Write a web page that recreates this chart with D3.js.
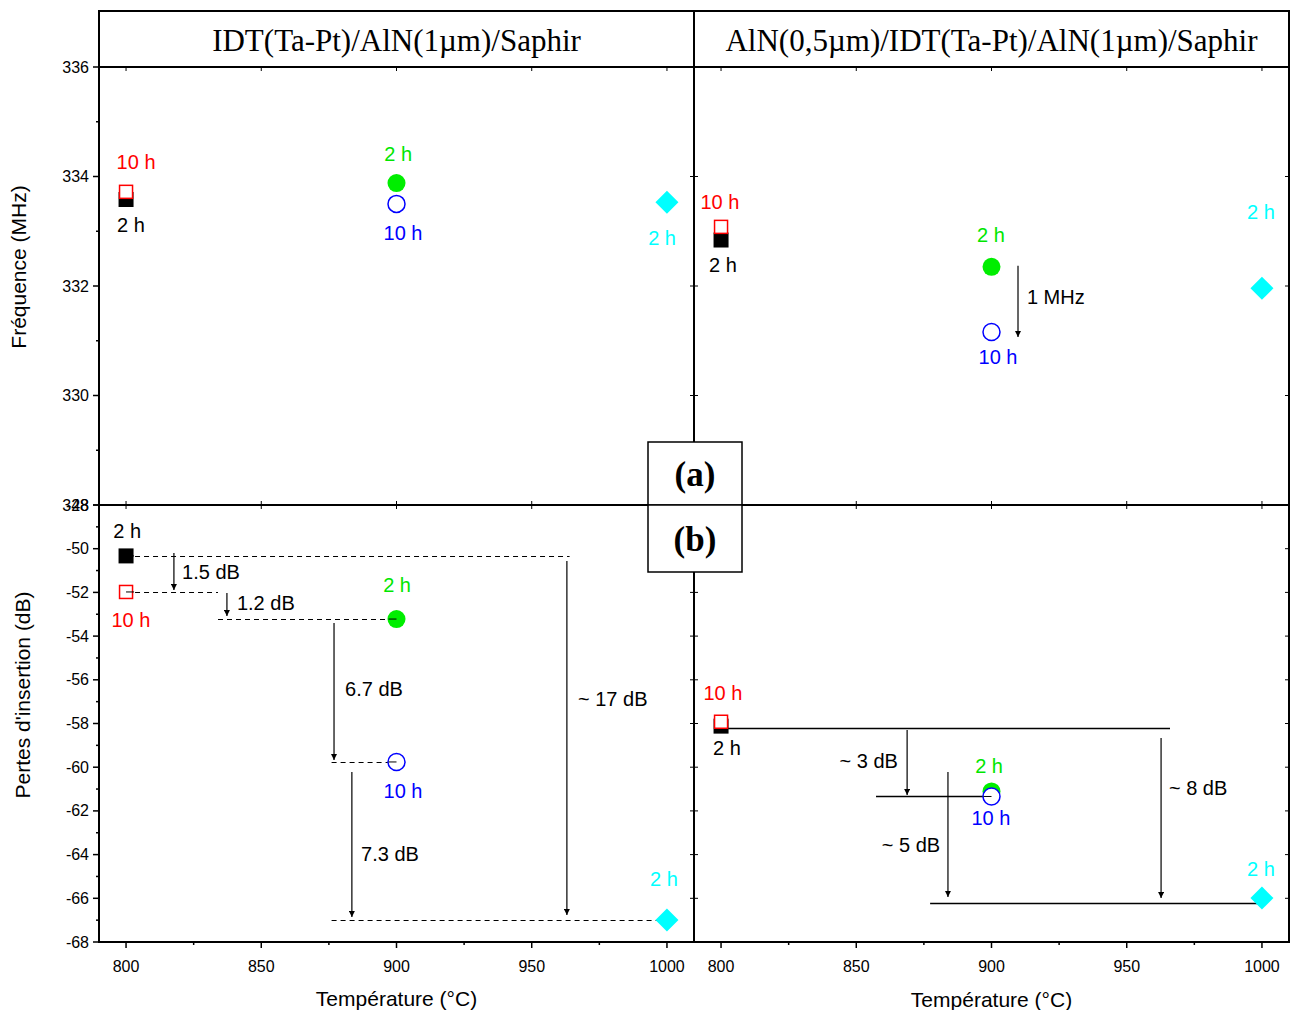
<!DOCTYPE html>
<html>
<head>
<meta charset="utf-8">
<script src="https://cdn.jsdelivr.net/npm/d3@7"></script>
<style>
  body { margin: 0; background: #fff; }
  svg { font-family: "Liberation Sans", Arial, sans-serif; }
  .tick-label { font-size: 16px; fill: #000; }
  .axis-title { font-size: 21px; fill: #000; }
  .note { font-size: 20px; }
  .title { font-family: "Liberation Serif", serif; font-size: 31px; }
  .tag { font-family: "Liberation Serif", serif; font-size: 35px; font-weight: bold; }
</style>
</head>
<body>
<div id="chart"></div>
<script>
// temperatures (°C) and values
const temps = [800, 900, 1000];
const freq2hA = [333.58, 333.88, 333.53];
const freq10hA = [333.72, 333.50, null];
const freq2hB = [332.84, 332.35, 331.96];
const freq10hB = [333.08, 331.16, null];
const loss2hA = [-50.33, -53.22, -66.99];
const loss10hA = [-51.98, -59.76, null];
const loss2hB = [-58.12, -61.11, -65.99];
const loss10hB = [-57.92, -61.34, null];

const titles = ["IDT(Ta-Pt)/AlN(1µm)/Saphir", "AlN(0,5µm)/IDT(Ta-Pt)/AlN(1µm)/Saphir"];
const freqTicks = [328, 330, 332, 334, 336];
const lossTicks = [-68, -66, -64, -62, -60, -58, -56, -54, -52, -50, -48];
const tempTicks = [800, 850, 900, 950, 1000];

// point labels [t, v, text, colour]
const labelsTL = [[803.7, 334.26, "10 h", "red"], [801.8, 333.11, "2 h", "black"], [900.6, 334.41, "2 h", "#00e600"],
  [902.4, 332.97, "10 h", "blue"], [998.2, 332.88, "2 h", "cyan"]];
const labelsTR = [[799.6, 333.53, "10 h", "red"], [800.7, 332.38, "2 h", "black"], [899.8, 332.93, "2 h", "#00e600"],
  [902.4, 330.70, "10 h", "blue"], [999.6, 333.35, "2 h", "cyan"]];
const labelsBL = [[800.4, -49.19, "2 h", "black"], [801.8, -53.26, "10 h", "red"], [900.2, -51.66, "2 h", "#00e600"],
  [902.4, -61.09, "10 h", "blue"], [998.9, -65.12, "2 h", "cyan"]];
const labelsBR = [[800.7, -56.6, "10 h", "red"], [802.2, -59.12, "2 h", "black"], [899.1, -59.95, "2 h", "#00e600"],
  [899.8, -62.32, "10 h", "blue"], [999.6, -64.66, "2 h", "cyan"]];

// differences: [t, v, text, anchor]
const notesTR = [[913.1, 331.80, "1 MHz", "start"]];
const notesBL = [[820.7, -51.07, "1.5 dB", "start"], [841.0, -52.49, "1.2 dB", "start"], [881.0, -56.42, "6.7 dB", "start"],
  [886.9, -63.97, "7.3 dB", "start"], [967.1, -56.88, "~ 17 dB", "start"]];
const notesBR = [[865.4, -59.72, "~ 3 dB", "end"], [881.0, -63.56, "~ 5 dB", "end"], [965.6, -60.95, "~ 8 dB", "start"]];

// guide lines [t1, t2, v] and arrows [t, v1, v2]
const guidesBL = [[800, 964, -50.33], [800, 834, -51.98], [834, 900, -53.22], [876, 900, -59.76], [876, 1000, -66.99]];
const guidesBR = [[802.6, 966, -58.2], [857.3, 900, -61.34], [877.3, 1000, -66.2]];
const arrowsTR = [[909.8, 332.37, 331.07]];
const arrowsBL = [[817.7, -50.2, -51.89], [837.3, -52.03, -53.08], [876.9, -53.4, -59.67], [883.5, -60.22, -66.86], [963, -50.56, -66.77]];
const arrowsBR = [[868.8, -58.3, -61.27], [883.9, -60.22, -65.94], [962.7, -58.66, -65.99]];

const width = 1291, height = 1010;
const svg = d3.select("#chart").append("svg").attr("width", width).attr("height", height);

svg.append("defs").append("marker")
  .attr("id", "head").attr("viewBox", "0 0 10 10").attr("refX", 10).attr("refY", 5)
  .attr("markerWidth", 9).attr("markerHeight", 6).attr("markerUnits", "userSpaceOnUse")
  .attr("orient", "auto")
  .append("path").attr("d", "M0,0L10,5L0,10Z").attr("fill", "#000");

const xL = d3.scaleLinear().domain([790, 1010]).range([99, 694]);
const xR = d3.scaleLinear().domain([790, 1010]).range([694, 1289]);
const yTop = d3.scaleLinear().domain([328, 336]).range([505, 67]);
const yBot = d3.scaleLinear().domain([-68, -48]).range([942, 505]);

const panels = [
  {x: xL, y: yTop, f2: freq2hA, f10: freq10hA, labels: labelsTL, notes: [], guides: [], arrows: [], dash: true, left: true, bottom: false},
  {x: xR, y: yTop, f2: freq2hB, f10: freq10hB, labels: labelsTR, notes: notesTR, guides: [], arrows: arrowsTR, dash: false, left: false, bottom: false},
  {x: xL, y: yBot, f2: loss2hA, f10: loss10hA, labels: labelsBL, notes: notesBL, guides: guidesBL, arrows: arrowsBL, dash: true, left: true, bottom: true},
  {x: xR, y: yBot, f2: loss2hB, f10: loss10hB, labels: labelsBR, notes: notesBR, guides: guidesBR, arrows: arrowsBR, dash: false, left: false, bottom: true}
];

function drawPanel(p) {
  const g = svg.append("g");
  const [x0, x1] = p.x.range();
  const [y0, y1] = p.y.range(); // y0 bottom, y1 top
  const yDom = p.y.domain();
  const yMinor = d3.range(yDom[0], yDom[1] + 0.1, 1);
  const xMinor = d3.range(800, 1001, 25);

  // frame
  g.append("rect").attr("x", x0).attr("y", y1).attr("width", x1 - x0).attr("height", y0 - y1)
    .attr("fill", "none").attr("stroke", "#000").attr("stroke-width", 2);

  // y ticks: outward with labels on the left panels, inward otherwise
  yMinor.forEach(v => {
    const major = Math.round(v) % 2 === 0;
    const len = major ? 6 : 3;
    if (p.left) {
      g.append("line").attr("x1", x0 - len).attr("x2", x0).attr("y1", p.y(v)).attr("y2", p.y(v)).attr("stroke", "#000").attr("stroke-width", 1.5);
    } else {
      g.append("line").attr("x1", x0).attr("x2", x0 + len - 2).attr("y1", p.y(v)).attr("y2", p.y(v)).attr("stroke", "#000");
    }
    g.append("line").attr("x1", x1 - len + 2).attr("x2", x1).attr("y1", p.y(v)).attr("y2", p.y(v)).attr("stroke", "#000");
  });
  if (p.left) {
    const ticks = yDom[0] > 0 ? freqTicks : lossTicks;
    g.selectAll(".yl").data(ticks).enter().append("text")
      .attr("class", "tick-label").attr("x", x0 - 10).attr("y", d => p.y(d))
      .attr("text-anchor", "end").attr("dominant-baseline", "central").text(d => d);
  }

  // x ticks
  xMinor.forEach(t => {
    const major = t % 50 === 0;
    const len = major ? 6 : 3;
    if (p.bottom) {
      g.append("line").attr("x1", p.x(t)).attr("x2", p.x(t)).attr("y1", y0).attr("y2", y0 + len).attr("stroke", "#000").attr("stroke-width", 1.5);
    } else {
      g.append("line").attr("x1", p.x(t)).attr("x2", p.x(t)).attr("y1", y0).attr("y2", y0 - len + 2).attr("stroke", "#000");
    }
    g.append("line").attr("x1", p.x(t)).attr("x2", p.x(t)).attr("y1", y1).attr("y2", y1 + len - 2).attr("stroke", "#000");
  });
  if (p.bottom) {
    g.selectAll(".xl").data(tempTicks).enter().append("text")
      .attr("class", "tick-label").attr("x", d => p.x(d)).attr("y", y0 + 24)
      .attr("text-anchor", "middle").attr("dominant-baseline", "central").text(d => d);
  }

  // guide lines
  g.selectAll(".guide").data(p.guides).enter().append("line")
    .attr("x1", d => p.x(d[0])).attr("x2", d => p.x(d[1]))
    .attr("y1", d => Math.round(p.y(d[2])) + 0.5).attr("y2", d => Math.round(p.y(d[2])) + 0.5)
    .attr("stroke", "#000").attr("stroke-width", p.dash ? 1 : 1.3)
    .attr("stroke-dasharray", p.dash ? "5,4" : null);

  // arrows
  g.selectAll(".arrow").data(p.arrows).enter().append("line")
    .attr("x1", d => p.x(d[0])).attr("x2", d => p.x(d[0]))
    .attr("y1", d => p.y(d[1])).attr("y2", d => p.y(d[2]))
    .attr("stroke", "#000").attr("stroke-width", 1.2).attr("marker-end", "url(#head)");

  // markers: 800 squares, 900 circles, 1000 diamond
  const pt = i => [p.x(temps[i]), p.y(p.f2[i])];
  let [cx, cy] = pt(0);
  g.append("rect").attr("x", cx - 7.5).attr("y", cy - 7.5).attr("width", 15).attr("height", 15).attr("fill", "#000");
  [cx, cy] = pt(1);
  g.append("circle").attr("cx", cx).attr("cy", cy).attr("r", 9).attr("fill", "#00ee00");
  [cx, cy] = pt(2);
  g.append("path").attr("transform", `translate(${cx},${cy})`).attr("d", "M0,-11.5L11.5,0L0,11.5L-11.5,0Z").attr("fill", "cyan");
  cx = p.x(temps[0]); cy = p.y(p.f10[0]);
  g.append("rect").attr("x", cx - 6.5).attr("y", cy - 6.5).attr("width", 13).attr("height", 13)
    .attr("fill", "#fff").attr("stroke", "red").attr("stroke-width", 1.5);
  cx = p.x(temps[1]); cy = p.y(p.f10[1]);
  g.append("circle").attr("cx", cx).attr("cy", cy).attr("r", 8.5)
    .attr("fill", "#fff").attr("stroke", "blue").attr("stroke-width", 1.5);

  // guide stubs drawn over the open symbols (as in the original)
  p.guides.filter(d => d[1] === 900 || d[0] === 800).forEach(d => {
    const tx = d[1] === 900 ? 900 : 800;
    g.append("line").attr("x1", p.x(tx) - (d[1] === 900 ? 8 : -8)).attr("x2", p.x(tx))
      .attr("y1", p.y(d[2])).attr("y2", p.y(d[2])).attr("stroke", "#000").attr("stroke-width", 1);
  });

  // point labels
  g.selectAll(".lab").data(p.labels).enter().append("text")
    .attr("class", "note").attr("x", d => p.x(d[0])).attr("y", d => p.y(d[1]))
    .attr("text-anchor", "middle").attr("dominant-baseline", "central")
    .attr("fill", d => d[3]).text(d => d[2]);

  g.selectAll(".nt").data(p.notes).enter().append("text")
    .attr("class", "note").attr("x", d => p.x(d[0])).attr("y", d => p.y(d[1]))
    .attr("text-anchor", d => d[3]).attr("dominant-baseline", "central")
    .attr("fill", "#000").text(d => d[2]);
}

panels.forEach(drawPanel);

// header boxes with sample titles
[xL, xR].forEach((x, i) => {
  const [a, b] = x.range();
  svg.append("rect").attr("x", a).attr("y", 11).attr("width", b - a).attr("height", 56)
    .attr("fill", "#fff").attr("stroke", "#000").attr("stroke-width", 2);
  svg.append("text").attr("class", "title").attr("x", (a + b) / 2).attr("y", 40)
    .attr("text-anchor", "middle").attr("dominant-baseline", "central").text(titles[i]);
});

// (a) / (b) boxes
[["(a)", 442, 505], ["(b)", 505, 572]].forEach(([t, top, bot]) => {
  svg.append("rect").attr("x", 648).attr("y", top).attr("width", 94).attr("height", bot - top)
    .attr("fill", "#fff").attr("stroke", "#000").attr("stroke-width", 1.5);
  svg.append("text").attr("class", "tag").attr("x", 695).attr("y", (top + bot) / 2 + 1)
    .attr("text-anchor", "middle").attr("dominant-baseline", "central").text(t);
});

// axis titles
svg.append("text").attr("class", "axis-title").attr("transform", "translate(18,267) rotate(-90)")
  .attr("text-anchor", "middle").attr("dominant-baseline", "central").text("Fréquence (MHz)");
svg.append("text").attr("class", "axis-title").attr("transform", "translate(22,695) rotate(-90)")
  .attr("text-anchor", "middle").attr("dominant-baseline", "central").text("Pertes d'insertion (dB)");
svg.append("text").attr("class", "axis-title").attr("x", (xL.range()[0] + xL.range()[1]) / 2).attr("y", 998)
  .attr("text-anchor", "middle").attr("dominant-baseline", "central").text("Température (°C)");
svg.append("text").attr("class", "axis-title").attr("x", (xR.range()[0] + xR.range()[1]) / 2).attr("y", 999)
  .attr("text-anchor", "middle").attr("dominant-baseline", "central").text("Température (°C)");
</script>
</body>
</html>
